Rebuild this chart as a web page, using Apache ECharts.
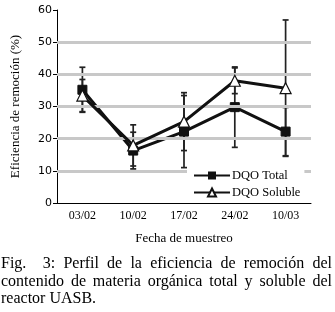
<!DOCTYPE html>
<html>
<head>
<meta charset="utf-8">
<script src="https://cdn.jsdelivr.net/npm/echarts@6/dist/echarts.min.js"></script>
<style>
  body { margin: 0; background: #fff; }
  #wrap { position: relative; width: 335px; height: 312px; }
  #chart { position: absolute; left: 0; top: 0; width: 335px; height: 312px; }
  .cap { position: absolute; left: 1px; width: 331px; font-family: "Liberation Serif", "DejaVu Serif", serif; font-size: 16px; line-height: 17.5px; color: #000; white-space: nowrap; }
  .just { text-align: justify; text-align-last: justify; white-space: normal; }
</style>
</head>
<body>
<div id="wrap">
  <div id="chart"></div>
  <div class="cap just" style="top:254px">Fig. &nbsp;3: Perfil de la eficiencia de remoción del</div>
  <div class="cap just" style="top:271.5px">contenido de materia orgánica total y soluble del</div>
  <div class="cap" style="top:289px">reactor UASB.</div>
</div>
<script>
  // datos
  const fechas = ["03/02", "10/02", "17/02", "24/02", "10/03"];
  const dqoTotal = [35.2, 16.3, 22.2, 29.8, 22.2];
  const dqoTotalErr = [7, 5.7, 11.2, 12.5, 7.5];
  const dqoSoluble = [33.4, 17.9, 25.3, 38, 35.7];
  const dqoSolubleErr = [5, 6.4, 9, 4, 21.2];
  const gridValues = [10, 20, 30, 40, 50];

  const serif = "Liberation Serif";

  function errData(vals, errs) {
    return vals.map((v, i) => [i, v - errs[i], v + errs[i]]);
  }

  function renderErr(params, api) {
    let x = api.value(0);
    let lo = api.coord([x, api.value(1)]);
    let hi = api.coord([x, api.value(2)]);
    let w = 3;
    let style = { stroke: "#222", lineWidth: 1.7 };
    return {
      type: "group",
      children: [
        { type: "line", shape: { x1: lo[0], y1: lo[1], x2: hi[0], y2: hi[1] }, style: style },
        { type: "line", shape: { x1: lo[0] - w, y1: lo[1], x2: lo[0] + w, y2: lo[1] }, style: style },
        { type: "line", shape: { x1: hi[0] - w, y1: hi[1], x2: hi[0] + w, y2: hi[1] }, style: style }
      ]
    };
  }

  let myChart = echarts.init(document.getElementById("chart"));
  let option = {
    animation: false,
    grid: { left: 57, right: 24, top: 10, bottom: 109 },
    legend: {
      orient: "vertical",
      left: 187,
      top: 166,
      z: 20,
      itemWidth: 36,
      itemHeight: 10,
      itemGap: 4,
      padding: [3, 4, 3, 6],
      backgroundColor: "#fff",
      textStyle: { fontFamily: serif, fontSize: 12.5, color: "#000", padding: [0, 0, 0, -3] },
      data: ["DQO Total", "DQO Soluble"]
    },
    xAxis: {
      type: "category",
      data: fechas,
      boundaryGap: true,
      name: "Fecha de muestreo",
      nameLocation: "middle",
      nameGap: 29,
      nameTextStyle: { fontFamily: serif, fontSize: 13, color: "#000" },
      axisLine: { lineStyle: { color: "#000", width: 1 } },
      axisTick: { alignWithLabel: true, length: 4, lineStyle: { color: "#000" } },
      axisLabel: { fontFamily: serif, fontSize: 12, color: "#000", margin: 7 }
    },
    yAxis: {
      type: "value",
      min: 0,
      max: 60,
      interval: 10,
      name: "Eficiencia de remoción (%)",
      nameLocation: "middle",
      nameGap: 35,
      nameTextStyle: { fontFamily: serif, fontSize: 13, color: "#000" },
      axisLine: { show: true, lineStyle: { color: "#000", width: 1 } },
      axisTick: { show: true, length: 4, lineStyle: { color: "#000" } },
      axisLabel: { fontFamily: "DejaVu Sans", fontSize: 11, color: "#000", margin: 5 },
      splitLine: { show: false }
    },
    series: [
      {
        name: "rejilla",
        type: "line",
        data: [],
        silent: true,
        markLine: {
          silent: true,
          symbol: "none",
          label: { show: false },
          lineStyle: { color: "#c8c8c8", width: 3, type: "solid" },
          data: gridValues.map(v => ({ yAxis: v }))
        },
        z: 0
      },
      {
        name: "errTotal",
        type: "custom",
        renderItem: renderErr,
        data: errData(dqoTotal, dqoTotalErr),
        z: 2
      },
      {
        name: "errSoluble",
        type: "custom",
        renderItem: renderErr,
        data: errData(dqoSoluble, dqoSolubleErr),
        z: 2
      },
      {
        name: "DQO Total",
        type: "line",
        data: dqoTotal,
        symbol: "rect",
        symbolSize: 9,
        lineStyle: { color: "#111", width: 3 },
        itemStyle: { color: "#111", borderColor: "#111" },
        z: 4
      },
      {
        name: "DQO Soluble",
        type: "line",
        data: dqoSoluble,
        symbol: "triangle",
        symbolSize: 11,
        lineStyle: { color: "#111", width: 3 },
        itemStyle: { color: "#fff", borderColor: "#111", borderWidth: 1.2 },
        z: 5
      }
    ]
  };
  myChart.setOption(option);
</script>
</body>
</html>
